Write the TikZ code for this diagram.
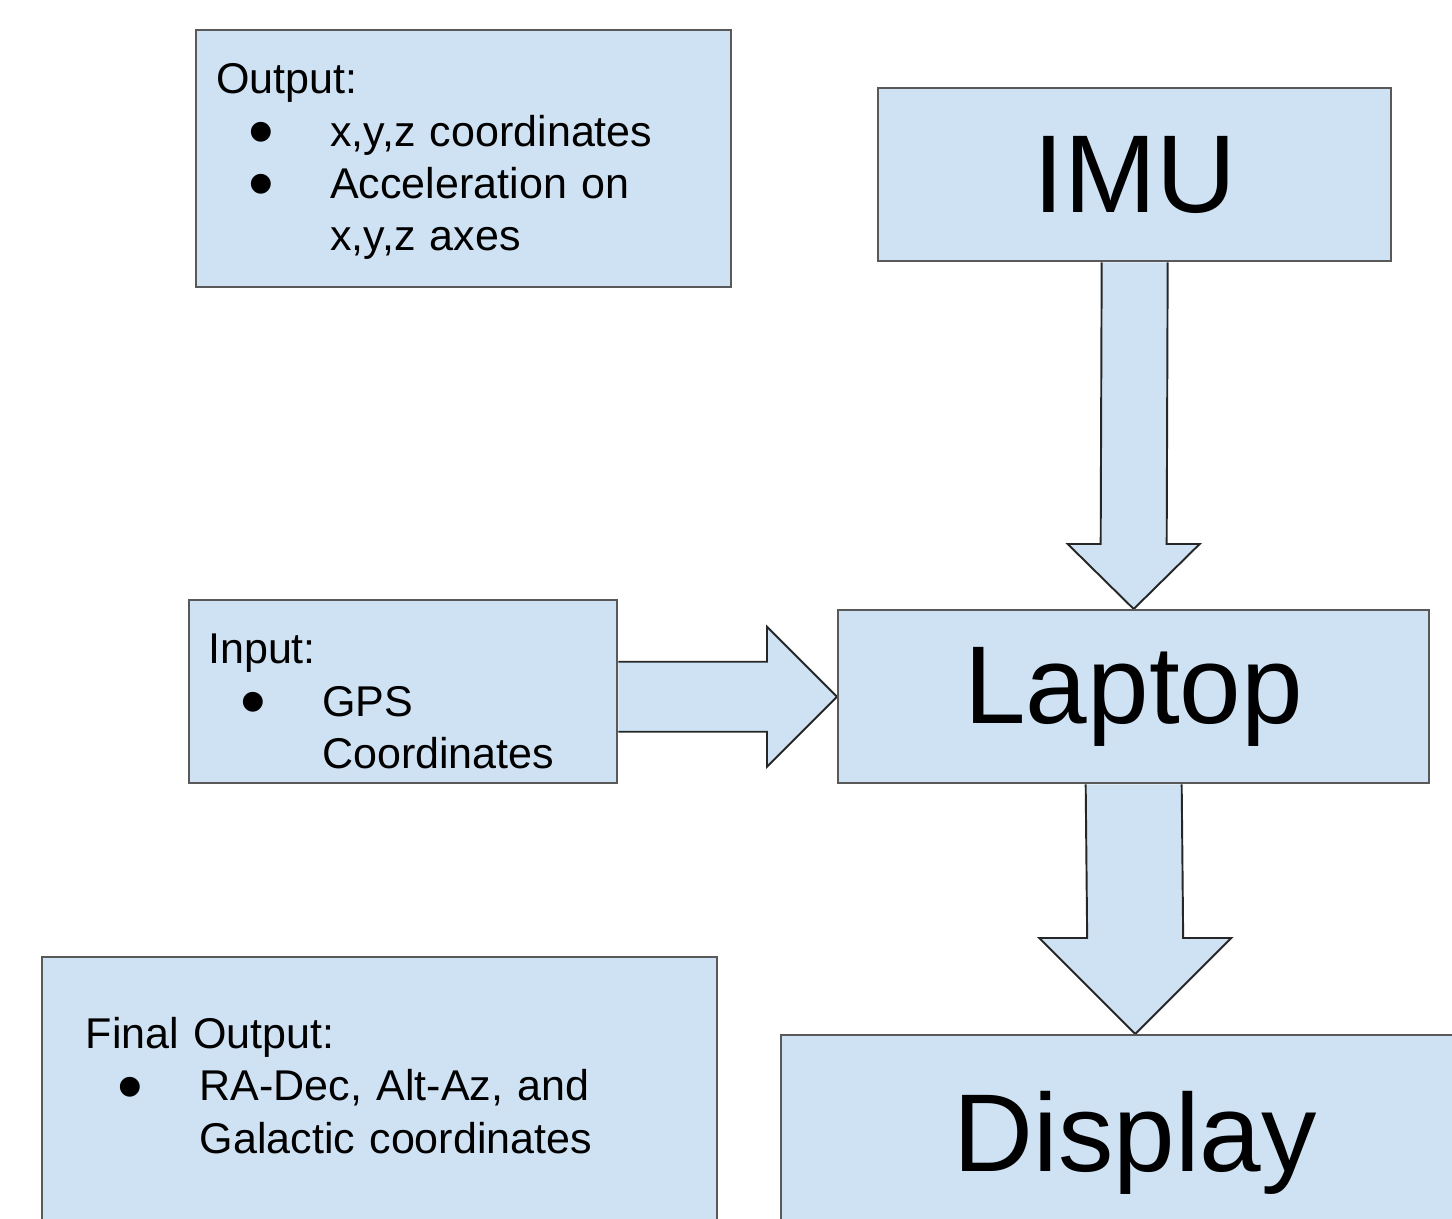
\documentclass[tikz,border=0pt]{standalone}
\usepackage{fontspec}
\setmainfont{Liberation Sans}
\usetikzlibrary{calc,backgrounds}
\definecolor{boxblue}{HTML}{CFE2F3}
\newcommand\itm[1]{\makebox[2.28cm][l]{\hspace{0.64cm}\smash{\raisebox{-0.21cm}{\scalebox{1.7}{\textbullet}}}}#1}

\begin{document}
\begin{tikzpicture}[x=0.02cm,y=-0.02cm,
      box/.style={draw=black!65,fill=boxblue,line width=1.4pt,anchor=north west,inner ysep=0pt},
      note/.style={box,align=left,font=\fontsize{24.5}{29.8}\selectfont},
      unit/.style={box,font=\fontsize{63}{75}\selectfont},
      flow/.style={draw=black!85,fill=boxblue,line width=1.1pt,line join=miter}]
    \useasboundingbox (0,0) rectangle (1452,1219);
    \clip (0,0) rectangle (1452,1219);
    \node[note,minimum width=10.7cm,minimum height=5.14cm,inner xsep=0.4cm,text width=9.9cm] (out) at (195,29) {\rule{0pt}{0.72cm}Output:\\ \itm{x,y,z coordinates}\\ \itm{Acceleration on}\\ \hspace*{2.28cm}x,y,z axes};
    \node[unit,minimum width=10.26cm,minimum height=3.46cm] (imu) at (877,87) {IMU};
    \node[note,minimum width=8.56cm,minimum height=3.66cm,inner xsep=0.38cm,text width=7.8cm] (inp) at (188,599) {\rule{0pt}{0.98cm}Input:\\ \itm{GPS}\\ \hspace*{2.28cm}Coordinates};
    \node[unit,minimum width=11.82cm,minimum height=3.46cm] (lap) at (837,609) {Laptop};
    \node[note,minimum width=13.5cm,minimum height=5.4cm,inner xsep=0.87cm,text width=11.76cm] (fin) at (41,956) {Final Output:\\ \itm{RA-Dec, Alt-Az, and}\\ \hspace*{2.28cm}Galactic coordinates\rule[-0.28cm]{0pt}{0pt}};
    \node[unit,minimum width=14.16cm,minimum height=4.32cm] (disp) at (780,1034) {Display};
    \begin{scope}[on background layer]
      \draw[flow] ($(imu.south)+(-33,0)$) -- ($(lap.north)+(-33,-65)$) -- ($(lap.north)+(-66,-65)$) -- (lap.north) -- ($(lap.north)+(66,-65)$) -- ($(lap.north)+(33,-65)$) -- ($(imu.south)+(33,0)$);
      \draw[flow] ($(inp.east |- lap.west)+(0,-35)$) -- ($(lap.west)+(-70,-35)$) -- ($(lap.west)+(-70,-70)$) -- (lap.west) -- ($(lap.west)+(-70,70)$) -- ($(lap.west)+(-70,35)$) -- ($(inp.east |- lap.west)+(0,35)$);
      \draw[flow] ($(lap.south)+(-48,0)$) -- ($(disp.north)+(-48,-96)$) -- ($(disp.north)+(-96,-96)$) -- (disp.north) -- ($(disp.north)+(96,-96)$) -- ($(disp.north)+(48,-96)$) -- ($(lap.south)+(48,0)$);
    \end{scope}
  \end{tikzpicture}
\end{document}
